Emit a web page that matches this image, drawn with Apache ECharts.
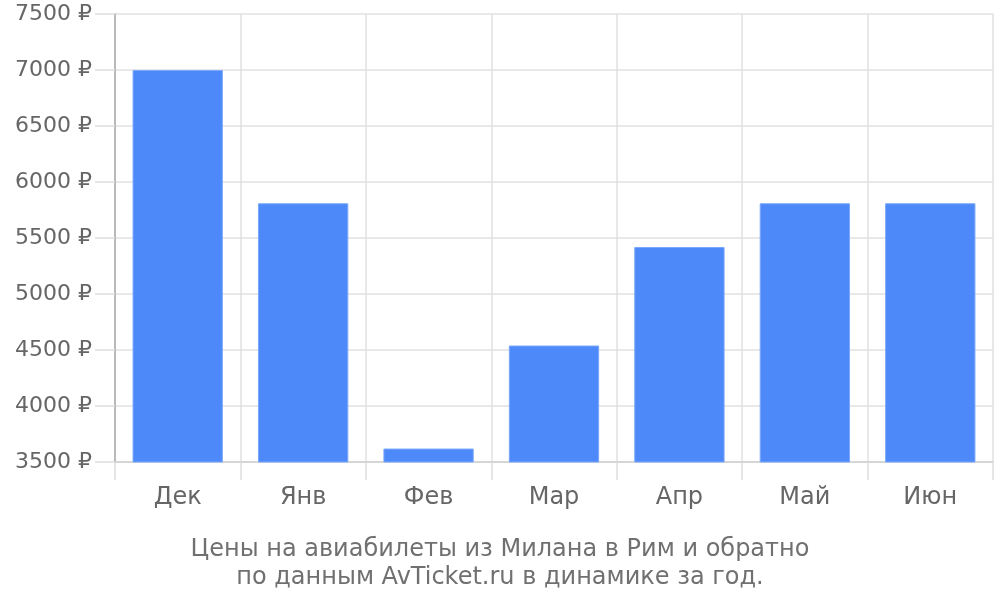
<!DOCTYPE html>
<html><head><meta charset="utf-8">
<script src="https://cdn.jsdelivr.net/npm/echarts@6/dist/echarts.min.js"></script>
<style>html,body{margin:0;padding:0;background:#fff}#c{width:1000px;height:600px}</style>
</head><body><div id="c"></div>
<script>
const categories = ['Дек','Янв','Фев','Мар','Апр','Май','Июн'];
const prices = [7000, 5810, 3620, 4540, 5420, 5810, 5810];
const yMin = 3500, yMax = 7500, yStep = 500;
const titleLines = ['Цены на авиабилеты из Милана в Рим и обратно','по данным AvTicket.ru в динамике за год.'];

const chart = echarts.init(document.getElementById('c'));
chart.setOption({
  animation: false,
  textStyle: {fontFamily: 'DejaVu Sans'},
  title: {
    text: titleLines.join('\n'),
    left: 'center', bottom: 3,
    textStyle: {fontFamily: 'DejaVu Sans', fontSize: 24, fontWeight: 'normal', color: '#707070', lineHeight: 28}
  },
  grid: {left: 115, right: 7, top: 14, bottom: 138},
  xAxis: {
    type: 'category', data: categories,
    axisLine: {show: true, lineStyle: {color: '#d0d0d0', width: 1.5}},
    axisTick: {show: true, length: 18, lineStyle: {color: '#dddddd', width: 1.5}},
    splitLine: {show: true, lineStyle: {color: '#e0e0e0', width: 1.5}},
    axisLabel: {fontSize: 24, color: '#666', margin: 24, fontFamily: 'DejaVu Sans'}
  },
  yAxis: {
    type: 'value', min: yMin, max: yMax, interval: yStep,
    axisLine: {show: true, lineStyle: {color: '#aaaaaa', width: 1.5}},
    axisTick: {show: true, length: 20, lineStyle: {color: '#dddddd', width: 1.5}},
    splitLine: {show: true, lineStyle: {color: '#e0e0e0', width: 1.5}},
    axisLabel: {fontSize: 22, color: '#666', margin: 23, fontFamily: 'DejaVu Sans',
      formatter: v => String(v) + ' ₽'}
  },
  series: [{
    type: 'bar', data: prices, barCategoryGap: '28%',
    itemStyle: {color: '#4d89f9', borderColor: '#7aa8fb', borderWidth: 1}
  }]
});
</script></body></html>
